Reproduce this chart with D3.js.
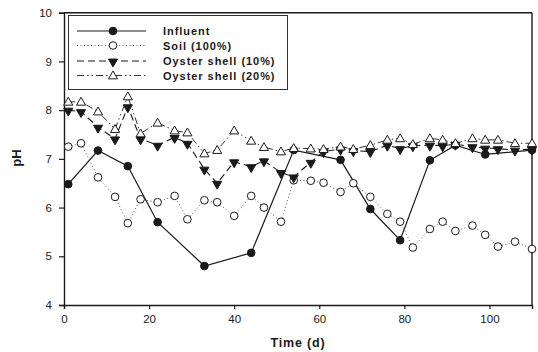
<!DOCTYPE html>
<html>
<head>
<meta charset="utf-8">
<script src="https://cdn.jsdelivr.net/npm/d3@7"></script>
<style>
  html, body { margin: 0; padding: 0; background: #fff; }
  svg { display: block; font-family: "Liberation Sans", Arial, sans-serif; }
</style>
</head>
<body>
<svg id="chart" width="538" height="352"></svg>
<script>
// pH over time for the influent and three filter media
const seriesNames = ["Influent", "Soil (100%)", "Oyster shell (10%)", "Oyster shell (20%)"];

const influentDays = [1, 8, 15, 22, 33, 44, 54, 65, 72, 79, 86, 92, 99, 110];
const influentPH   = [6.48, 7.17, 6.85, 5.70, 4.80, 5.07, 7.18, 6.98, 5.97, 5.33, 6.97, 7.28, 7.09, 7.18];

const soilDays = [1, 4, 8, 12, 15, 18, 22, 26, 29, 33, 36, 40, 44, 47, 51, 54, 58, 61, 65, 68, 72, 76, 79, 82, 86, 89, 92, 96, 99, 102, 106, 110];
const soilPH   = [7.25, 7.32, 6.62, 6.22, 5.68, 6.17, 6.11, 6.24, 5.76, 6.15, 6.11, 5.83, 6.24, 6.00, 5.71, 6.56, 6.55, 6.51, 6.32, 6.50, 6.22, 5.87, 5.71, 5.18, 5.56, 5.71, 5.52, 5.63, 5.44, 5.20, 5.30, 5.15];

const oyster10Days = [1, 4, 8, 12, 15, 18, 22, 26, 29, 33, 36, 40, 44, 47, 51, 54, 58, 61, 65, 68, 72, 76, 79, 82, 86, 89, 92, 96, 99, 102, 106, 110];
const oyster10PH   = [8.00, 7.97, 7.65, 7.41, 8.07, 7.41, 7.28, 7.44, 7.32, 6.79, 6.50, 6.94, 6.84, 6.96, 6.72, 6.63, 6.93, 7.15, 7.20, 7.17, 7.15, 7.28, 7.21, 7.27, 7.28, 7.27, 7.30, 7.25, 7.22, 7.21, 7.18, 7.20];

const oyster20Days = [1, 4, 8, 12, 15, 18, 22, 26, 29, 33, 36, 40, 44, 47, 51, 54, 58, 61, 65, 68, 72, 76, 79, 82, 86, 89, 92, 96, 99, 102, 106, 110];
const oyster20PH   = [8.17, 8.17, 7.97, 7.61, 8.28, 7.52, 7.74, 7.58, 7.54, 7.11, 7.18, 7.58, 7.37, 7.24, 7.15, 7.22, 7.21, 7.20, 7.25, 7.20, 7.28, 7.39, 7.42, 7.30, 7.42, 7.39, 7.32, 7.42, 7.39, 7.39, 7.32, 7.32];

const xTicks = [0, 20, 40, 60, 80, 100];
const yTicks = [4, 5, 6, 7, 8, 9, 10];

const svg = d3.select("#chart");
const plotLeft = 64, plotRight = 532, plotTop = 12.7, plotBottom = 305;

const x = d3.scaleLinear().domain([0, 110]).range([plotLeft, plotRight]);
const y = d3.scaleLinear().domain([4, 10]).range([plotBottom, plotTop]);

const ink = "#1a1a1a";

// Axes
const xAxis = svg.append("g")
  .attr("transform", `translate(0,${plotBottom})`)
  .call(d3.axisBottom(x).tickValues(xTicks).tickFormat(d3.format("d")).tickSize(4).tickPadding(6));
const yAxis = svg.append("g")
  .attr("transform", `translate(${plotLeft},0)`)
  .call(d3.axisLeft(y).tickValues(yTicks).tickFormat(d3.format("d")).tickSize(5).tickPadding(7));
[xAxis, yAxis].forEach(g => {
  g.select(".domain").attr("stroke", ink).attr("stroke-width", 1.4);
  g.selectAll(".tick line").attr("stroke", ink).attr("stroke-width", 1.2);
  g.selectAll(".tick text").attr("fill", ink).style("font-size", "11.5px")
    .style("font-family", "'Liberation Sans', Arial, sans-serif");
});

// Top and right frame edges
svg.append("line").attr("x1", plotLeft).attr("x2", plotRight).attr("y1", plotTop).attr("y2", plotTop)
  .attr("stroke", ink).attr("stroke-width", 1.4);
svg.append("line").attr("x1", plotRight).attr("x2", plotRight).attr("y1", plotTop).attr("y2", plotBottom)
  .attr("stroke", ink).attr("stroke-width", 1.4);

// Axis titles
svg.append("text").attr("x", 298).attr("y", 347).attr("text-anchor", "middle")
  .attr("fill", ink).style("font-size", "12.5px").style("font-weight", "bold")
  .style("letter-spacing", "0.8px").text("Time (d)");
svg.append("text").attr("transform", "translate(21,158) rotate(-90)").attr("text-anchor", "middle")
  .attr("fill", ink).style("font-size", "13px").style("font-weight", "bold").text("pH");

const series = [
  { name: seriesNames[0], days: influentDays, ph: influentPH, dash: null, lineColor: ink, lw: 1.2, marker: "circle", fill: ink },
  { name: seriesNames[1], days: soilDays, ph: soilPH, dash: "1,2.5", lineColor: "#555", lw: 1, marker: "circle", fill: "#fff" },
  { name: seriesNames[2], days: oyster10Days, ph: oyster10PH, dash: "7,4", lineColor: ink, lw: 1.1, marker: "down", fill: ink },
  { name: seriesNames[3], days: oyster20Days, ph: oyster20PH, dash: "7,3,1.5,3,1.5,3", lineColor: "#333", lw: 1, marker: "up", fill: "#fff" }
];

const symbols = {
  circle: d3.symbol().type(d3.symbolCircle).size(46),
  up: d3.symbol().type(d3.symbolTriangle).size(36)
};
function markerPath(kind) {
  return kind === "circle" ? symbols.circle() : symbols.up();
}
function markerTransform(kind, px, py) {
  if (kind === "down") return `translate(${px},${py + 0.7}) rotate(180)`;
  if (kind === "up") return `translate(${px},${py + 0.7})`;
  return `translate(${px},${py})`;
}

const line = d3.line().x(d => x(d[0])).y(d => y(d[1]));

// Draw lines first, then markers (drawn in order so later series sit on top)
series.forEach(s => {
  const pts = s.days.map((d, i) => [d, s.ph[i]]);
  const path = svg.append("path").datum(pts).attr("d", line)
    .attr("fill", "none").attr("stroke", s.lineColor).attr("stroke-width", s.lw);
  if (s.dash) path.attr("stroke-dasharray", s.dash);
});
series.forEach(s => {
  const pts = s.days.map((d, i) => [d, s.ph[i]]);
  svg.append("g").selectAll("path").data(pts).join("path")
    .attr("d", markerPath(s.marker))
    .attr("transform", d => markerTransform(s.marker, x(d[0]), y(d[1])))
    .attr("fill", s.fill).attr("stroke", ink).attr("stroke-width", 1);
});

// Legend
const lg = svg.append("g");
lg.append("rect").attr("x", 68.5).attr("y", 15.5).attr("width", 219).attr("height", 74)
  .attr("fill", "#fff").attr("stroke", "#333").attr("stroke-width", 1);
const rowY = [31, 45.5, 61, 75.5];
series.forEach((s, i) => {
  const ly = rowY[i];
  const l = lg.append("line").attr("x1", 77).attr("x2", 146).attr("y1", ly).attr("y2", ly)
    .attr("stroke", s.lineColor).attr("stroke-width", s.lw);
  if (s.dash) l.attr("stroke-dasharray", s.dash);
  lg.append("path").attr("d", markerPath(s.marker))
    .attr("transform", markerTransform(s.marker, 113, ly))
    .attr("fill", s.fill).attr("stroke", ink).attr("stroke-width", 1);
  lg.append("text").attr("x", 163).attr("y", ly + 4).attr("fill", ink)
    .style("font-size", "11px").style("font-weight", "bold").style("letter-spacing", "0.95px")
    .text(s.name);
});
</script>
</body>
</html>
